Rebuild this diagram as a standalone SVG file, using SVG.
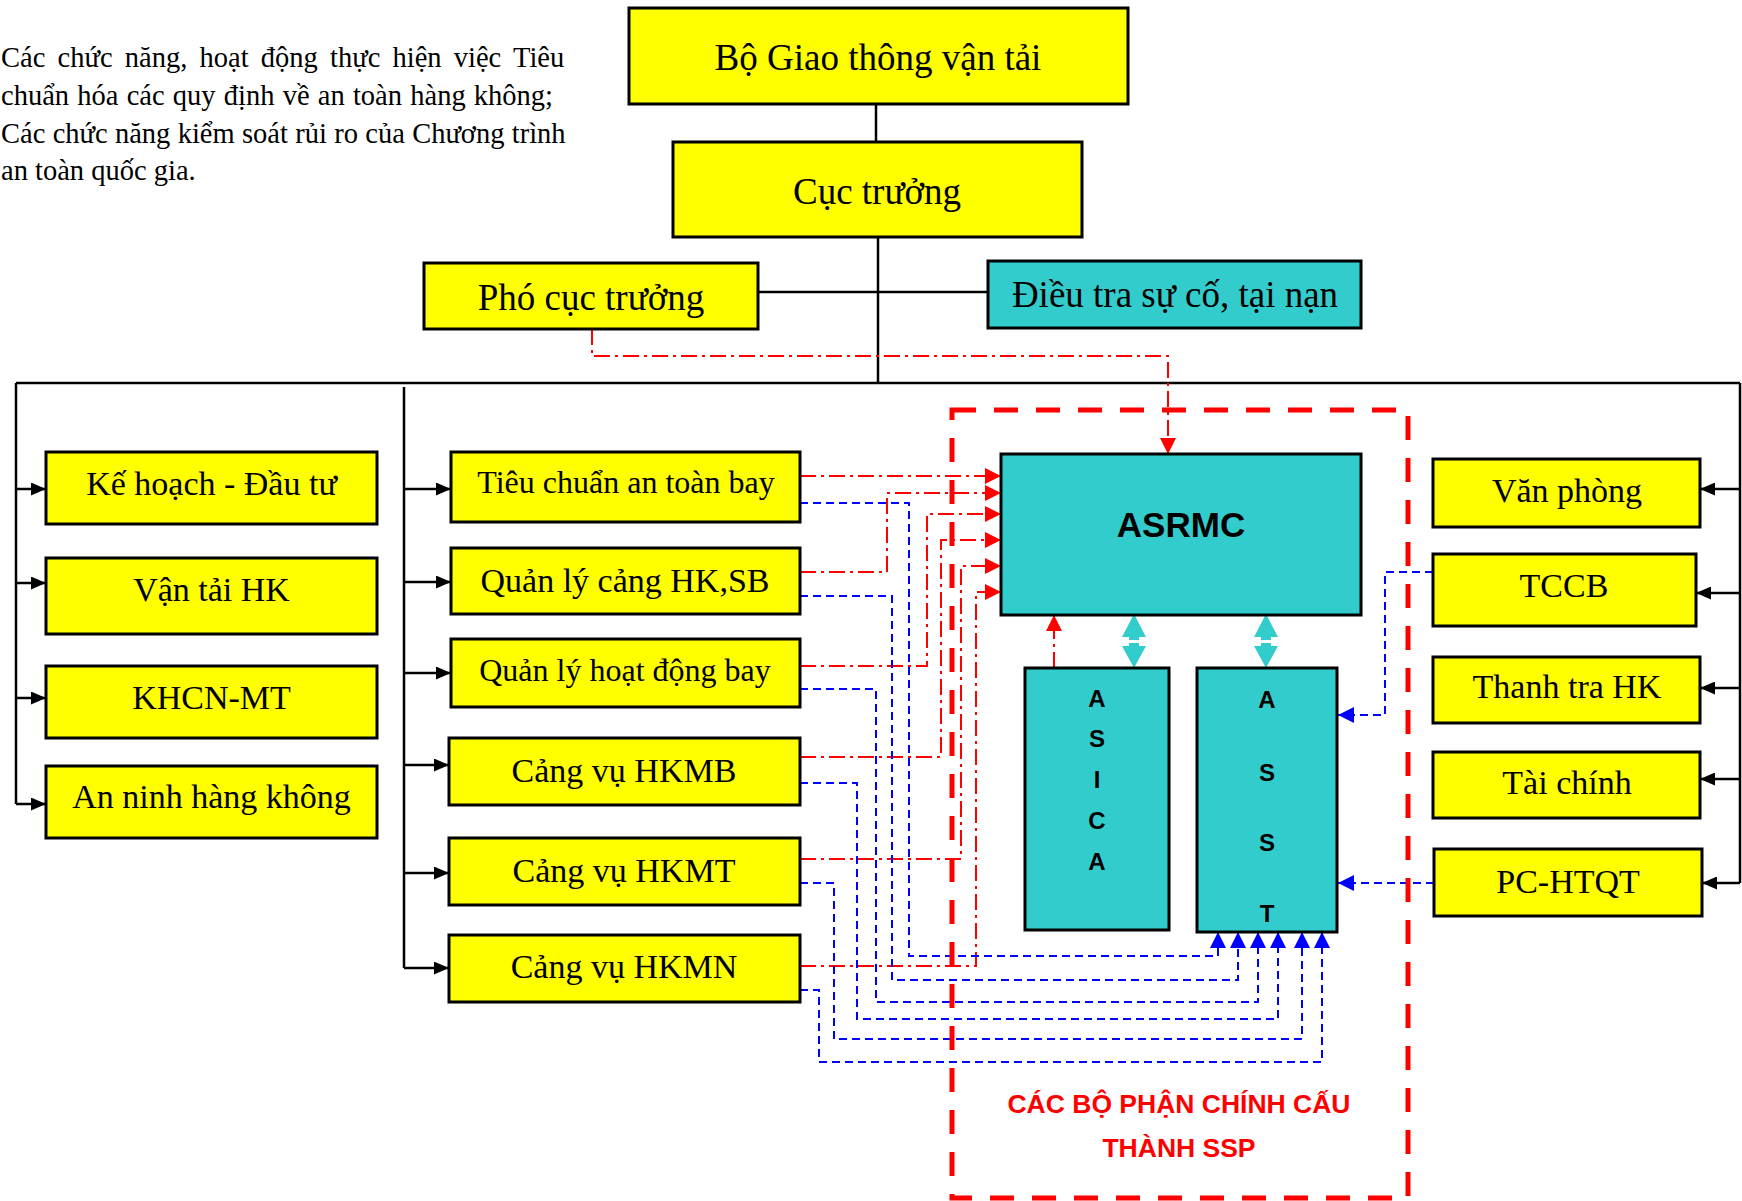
<svg xmlns="http://www.w3.org/2000/svg" width="1742" height="1201" viewBox="0 0 1742 1201">
<style>
.box{stroke:#000;stroke-width:3}
.y{fill:#FFFF00}
.c{fill:#33CCCC}
.t{font-family:"Liberation Serif","Times New Roman",serif;fill:#000;text-anchor:middle}
.s{font-family:"Liberation Sans",Arial,sans-serif;font-weight:bold;fill:#000;text-anchor:middle}
.blk{fill:none;stroke:#000;stroke-width:2.5}
.red{fill:none;stroke:#FF0000;stroke-width:2;stroke-dasharray:16 5 3 5}
.blu{fill:none;stroke:#0000FF;stroke-width:2;stroke-dasharray:8 5}
.para{font-family:"Liberation Serif","Times New Roman",serif;font-size:28.5px;fill:#000}
</style>
<defs>
<marker id="ab" markerUnits="userSpaceOnUse" markerWidth="15" markerHeight="13" refX="15" refY="6.5" orient="auto"><path d="M0,0 L15,6.5 L0,13 z" fill="#000"/></marker>
<marker id="ar" markerUnits="userSpaceOnUse" markerWidth="16" markerHeight="16" refX="16" refY="8" orient="auto"><path d="M0,0 L16,8 L0,16 z" fill="#FF0000"/></marker>
<marker id="au" markerUnits="userSpaceOnUse" markerWidth="16" markerHeight="16" refX="16" refY="8" orient="auto"><path d="M0,0 L16,8 L0,16 z" fill="#0000FF"/></marker>
</defs>
<rect width="1742" height="1201" fill="#fff"/>

<g id="note">
<text class="para" x="1" y="67" word-spacing="5.1">Các chức năng, hoạt động thực hiện việc Tiêu</text>
<text class="para" x="1" y="105" word-spacing="1.1">chuẩn hóa các quy định về an toàn hàng không;</text>
<text class="para" x="1" y="143" word-spacing="0.2">Các chức năng kiểm soát rủi ro của Chương trình</text>
<text class="para" x="1" y="180">an toàn quốc gia.</text>
</g>

<g id="connectors">
<path class="blk" d="M876,104 V142"/>
<path class="blk" d="M878,238 V383"/>
<path class="blk" d="M758,292 H988"/>
<path class="blk" d="M16,383 H1740"/>
<path class="blk" d="M16,383 V804"/>
<path class="blk" d="M16,489 H46" marker-end="url(#ab)"/>
<path class="blk" d="M16,583 H46" marker-end="url(#ab)"/>
<path class="blk" d="M16,698 H46" marker-end="url(#ab)"/>
<path class="blk" d="M16,804 H46" marker-end="url(#ab)"/>
<path class="blk" d="M404,387 V968"/>
<path class="blk" d="M404,489 H451" marker-end="url(#ab)"/>
<path class="blk" d="M404,582 H451" marker-end="url(#ab)"/>
<path class="blk" d="M404,673 H451" marker-end="url(#ab)"/>
<path class="blk" d="M404,765 H449" marker-end="url(#ab)"/>
<path class="blk" d="M404,873 H449" marker-end="url(#ab)"/>
<path class="blk" d="M404,968 H449" marker-end="url(#ab)"/>
<path class="blk" d="M1740,383 V883"/>
<path class="blk" d="M1740,489 H1700" marker-end="url(#ab)"/>
<path class="blk" d="M1740,593 H1696" marker-end="url(#ab)"/>
<path class="blk" d="M1740,688 H1700" marker-end="url(#ab)"/>
<path class="blk" d="M1740,779 H1700" marker-end="url(#ab)"/>
<path class="blk" d="M1740,883 H1702" marker-end="url(#ab)"/>

<path class="red" d="M592,329 V356 H1168 V454" marker-end="url(#ar)"/>
<path class="red" d="M800,476 H1001" marker-end="url(#ar)"/>
<path class="red" d="M800,572 H887 V493 H1001" marker-end="url(#ar)"/>
<path class="red" d="M800,666 H927 V514 H1001" marker-end="url(#ar)"/>
<path class="red" d="M800,757 H941 V540 H1001" marker-end="url(#ar)"/>
<path class="red" d="M800,859 H961 V566 H1001" marker-end="url(#ar)"/>
<path class="red" d="M800,966 H976 V592 H1001" marker-end="url(#ar)"/>
<path class="red" d="M1054,668 V615" marker-end="url(#ar)"/>

<path class="blu" d="M800,503 H909 V956 H1218 V932" marker-end="url(#au)"/>
<path class="blu" d="M800,596 H892 V980 H1238 V932" marker-end="url(#au)"/>
<path class="blu" d="M800,689 H876 V1002 H1258 V932" marker-end="url(#au)"/>
<path class="blu" d="M800,783 H857 V1019 H1278 V932" marker-end="url(#au)"/>
<path class="blu" d="M800,883 H834 V1039 H1302 V932" marker-end="url(#au)"/>
<path class="blu" d="M800,990 H819 V1062 H1322 V932" marker-end="url(#au)"/>
<path class="blu" d="M1433,572 H1385 V715 H1338" marker-end="url(#au)"/>
<path class="blu" d="M1434,883 H1338" marker-end="url(#au)"/>

<g fill="#33CCCC">
<polygon points="1134,614 1146,637 1139,637 1139,640 1129,640 1129,637 1122,637"/>
<polygon points="1129,643 1139,643 1139,646 1146,646 1134,668 1122,646 1129,646"/>
<polygon points="1266,614 1278,637 1271,637 1271,640 1261,640 1261,637 1254,637"/>
<polygon points="1261,643 1271,643 1271,646 1278,646 1266,668 1254,646 1261,646"/>
</g>
</g>

<g id="ssp-frame">
<rect x="952" y="410" width="456" height="788" fill="none" stroke="#FF0000" stroke-width="5" stroke-dasharray="24 18"/>
<text class="s" x="1179" y="1113" font-size="26.5" style="fill:#FF0000">CÁC BỘ PHẬN CHÍNH CẤU</text>
<text class="s" x="1179" y="1157" font-size="26.5" style="fill:#FF0000">THÀNH SSP</text>
</g>

<g id="bo-gtvt"><rect class="box y" x="629" y="8" width="499" height="96"/><text class="t" x="878" y="70" font-size="37">Bộ Giao thông vận tải</text></g>
<g id="cuc-truong"><rect class="box y" x="673" y="142" width="409" height="95"/><text class="t" x="877" y="204" font-size="37">Cục trưởng</text></g>
<g id="pho-cuc-truong"><rect class="box y" x="424" y="263" width="334" height="66"/><text class="t" x="591" y="310" font-size="37">Phó cục trưởng</text></g>
<g id="dieu-tra"><rect class="box c" x="988" y="261" width="373" height="67"/><text class="t" x="1175" y="307" font-size="37">Điều tra sự cố, tại nạn</text></g>

<g id="ke-hoach"><rect class="box y" x="46" y="452" width="331" height="72"/><text class="t" x="211.5" y="495" font-size="34">Kế hoạch - Đầu tư</text></g>
<g id="van-tai"><rect class="box y" x="46" y="558" width="331" height="76"/><text class="t" x="211.5" y="601" font-size="34">Vận tải HK</text></g>
<g id="khcn"><rect class="box y" x="46" y="666" width="331" height="72"/><text class="t" x="211.5" y="709" font-size="34">KHCN-MT</text></g>
<g id="an-ninh"><rect class="box y" x="46" y="766" width="331" height="72"/><text class="t" x="211.5" y="808" font-size="34">An ninh hàng không</text></g>

<g id="tieu-chuan"><rect class="box y" x="451" y="452" width="349" height="70"/><text class="t" x="626" y="493" font-size="32">Tiêu chuẩn an toàn bay</text></g>
<g id="ql-cang"><rect class="box y" x="451" y="548" width="349" height="66"/><text class="t" x="625" y="592" font-size="34">Quản lý cảng HK,SB</text></g>
<g id="ql-hdb"><rect class="box y" x="451" y="639" width="349" height="68"/><text class="t" x="625" y="681" font-size="32">Quản lý hoạt động bay</text></g>
<g id="cv-hkmb"><rect class="box y" x="449" y="738" width="351" height="67"/><text class="t" x="624" y="782" font-size="34">Cảng vụ HKMB</text></g>
<g id="cv-hkmt"><rect class="box y" x="449" y="838" width="351" height="67"/><text class="t" x="624" y="882" font-size="34">Cảng vụ HKMT</text></g>
<g id="cv-hkmn"><rect class="box y" x="449" y="935" width="351" height="67"/><text class="t" x="624" y="978" font-size="34">Cảng vụ HKMN</text></g>

<g id="asrmc"><rect class="box c" x="1001" y="454" width="360" height="161"/><text class="s" x="1181" y="537" font-size="35">ASRMC</text></g>
<g id="asica"><rect class="box c" x="1025" y="668" width="144" height="262"/>
<text class="s" x="1097" y="707" font-size="24">A</text><text class="s" x="1097" y="747" font-size="24">S</text><text class="s" x="1097" y="788" font-size="24">I</text><text class="s" x="1097" y="829" font-size="24">C</text><text class="s" x="1097" y="870" font-size="24">A</text></g>
<g id="asst"><rect class="box c" x="1197" y="668" width="140" height="264"/>
<text class="s" x="1267" y="708" font-size="24">A</text><text class="s" x="1267" y="781" font-size="24">S</text><text class="s" x="1267" y="851" font-size="24">S</text><text class="s" x="1267" y="922" font-size="24">T</text></g>

<g id="van-phong"><rect class="box y" x="1433" y="459" width="267" height="68"/><text class="t" x="1567" y="502" font-size="34">Văn phòng</text></g>
<g id="tccb"><rect class="box y" x="1433" y="554" width="263" height="72"/><text class="t" x="1564" y="597" font-size="34">TCCB</text></g>
<g id="thanh-tra"><rect class="box y" x="1433" y="657" width="267" height="66"/><text class="t" x="1567" y="698" font-size="34">Thanh tra HK</text></g>
<g id="tai-chinh"><rect class="box y" x="1433" y="752" width="267" height="66"/><text class="t" x="1567" y="794" font-size="34">Tài chính</text></g>
<g id="pc-htqt"><rect class="box y" x="1434" y="849" width="268" height="67"/><text class="t" x="1568" y="893" font-size="34">PC-HTQT</text></g>
</svg>
